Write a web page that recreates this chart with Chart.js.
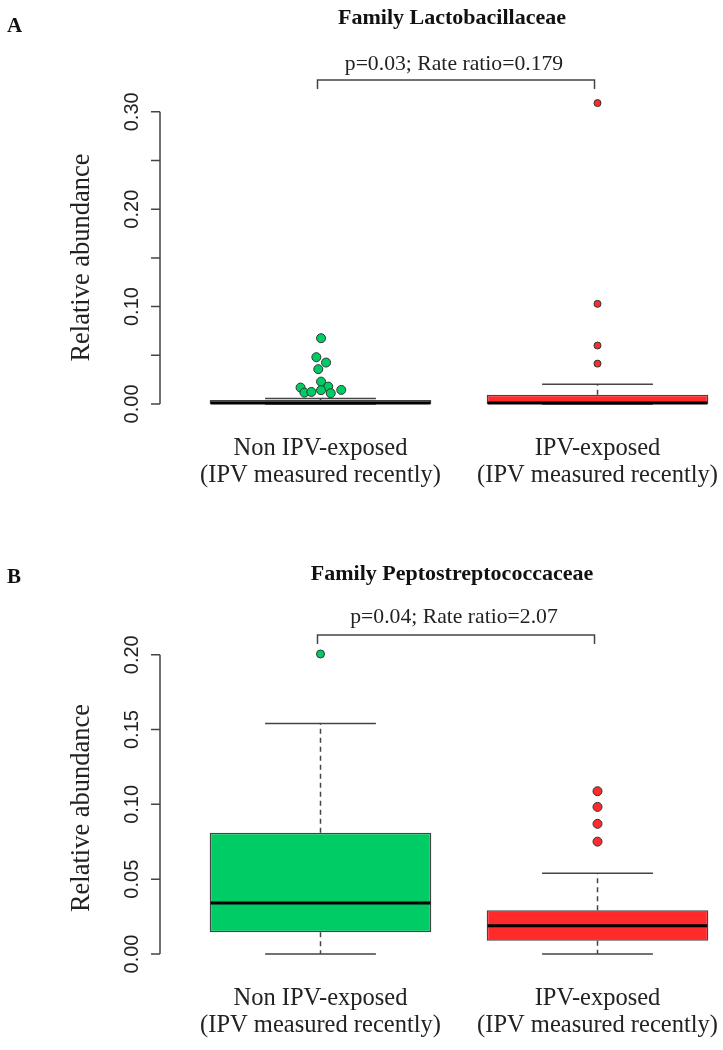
<!DOCTYPE html>
<html><head><meta charset="utf-8">
<script src="https://cdn.jsdelivr.net/npm/chart.js@4.4.1/dist/chart.umd.min.js"></script>
<style>html,body{margin:0;padding:0;background:#fff;}canvas{display:block;}</style>
</head><body>
<canvas id="cA" width="723" height="525"></canvas>
<canvas id="cB" width="723" height="525"></canvas>
<script>
// ---------- shared ----------
const categories = [1, 2];
const xLabels = [['Non IPV-exposed', '(IPV measured recently)'], ['IPV-exposed', '(IPV measured recently)']];
const yAxisTitle = 'Relative abundance';
const boxColors = ['#00CC66', '#FF2A2A'];

// ---------- Panel A ----------
const letterA = 'A';
const titleA = 'Family Lactobacillaceae';
const statA = 'p=0.03; Rate ratio=0.179';
const lowerWhiskerA = [0, 0];
const q1A = [0, 0];
const medianA = [0, 0];
const q3A = [0.004, 0.0093];
const upperWhiskerA = [0.0055, 0.0202];
const greenPointsXA = [1.002, 0.985, 1.020, 0.992, 1.002, 0.928, 1.028, 0.942, 0.967, 1.002, 1.037, 1.075];
const greenPointsYA = [0.0675, 0.0480, 0.0425, 0.0357, 0.0229, 0.0168, 0.0178, 0.0116, 0.0123, 0.0141, 0.0110, 0.0144];
const redOutliersA = [0.309, 0.1028, 0.0600, 0.0414];
const yTicksA = [0, 0.05, 0.10, 0.15, 0.20, 0.25, 0.30];
const yTickLabelsA = ['0.00', '', '0.10', '', '0.20', '', '0.30'];

// ---------- Panel B ----------
const letterB = 'B';
const titleB = 'Family Peptostreptococcaceae';
const statB = 'p=0.04; Rate ratio=2.07';
const lowerWhiskerB = [0, 0];
const q1B = [0.0145, 0.0089];
const medianB = [0.0341, 0.0189];
const q3B = [0.0811, 0.0292];
const upperWhiskerB = [0.154, 0.054];
const greenOutliersB = [0.2005];
const redOutliersB = [0.1088, 0.0983, 0.0870, 0.0751];
const yTicksB = [0, 0.05, 0.10, 0.15, 0.20];
const yTickLabelsB = ['0.00', '0.05', '0.10', '0.15', '0.20'];

const SERIF = '"Liberation Serif", "DejaVu Serif", serif';
const SANS = '"Liberation Sans", Arial, sans-serif';

function makePanel(canvasId, p) {
  const decor = {
    id: 'boxDecor',
    beforeDatasetsDraw(chart) {
      const {ctx, scales: {x, y}} = chart;
      const unit = x.getPixelForValue(1) - x.getPixelForValue(0);
      ctx.save();
      ctx.strokeStyle = '#444';
      ctx.lineWidth = 1.5;
      categories.forEach((c, i) => {
        const cx = x.getPixelForValue(c);
        ctx.setLineDash([5, 4]);
        ctx.beginPath();
        ctx.moveTo(cx, y.getPixelForValue(p.q3[i]));
        ctx.lineTo(cx, y.getPixelForValue(p.uw[i]));
        ctx.moveTo(cx, y.getPixelForValue(p.q1[i]));
        ctx.lineTo(cx, y.getPixelForValue(p.lw[i]));
        ctx.stroke();
        ctx.setLineDash([]);
        ctx.beginPath();
        [p.uw[i], p.lw[i]].forEach(v => {
          const py = y.getPixelForValue(v);
          ctx.moveTo(cx - 0.2 * unit, py);
          ctx.lineTo(cx + 0.2 * unit, py);
        });
        ctx.stroke();
      });
      ctx.restore();
    },
    afterDatasetsDraw(chart) {
      const {ctx, scales: {x, y}} = chart;
      const unit = x.getPixelForValue(1) - x.getPixelForValue(0);
      ctx.save();
      ctx.strokeStyle = '#000';
      ctx.lineWidth = 3;
      categories.forEach((c, i) => {
        const cx = x.getPixelForValue(c);
        const py = Math.min(y.getPixelForValue(p.med[i]), y.getPixelForValue(0) - 1);
        ctx.beginPath();
        ctx.moveTo(cx - 0.4 * unit + 1, py);
        ctx.lineTo(cx + 0.4 * unit - 1, py);
        ctx.stroke();
      });
      ctx.restore();
    },
    afterDraw(chart) {
      const {ctx, chartArea, scales: {x, y}} = chart;
      const left = chartArea.left;
      ctx.save();
      // y axis
      ctx.strokeStyle = '#444';
      ctx.lineWidth = 1.5;
      ctx.beginPath();
      ctx.moveTo(left, y.getPixelForValue(p.yTicks[0]));
      ctx.lineTo(left, y.getPixelForValue(p.yTicks[p.yTicks.length - 1]));
      p.yTicks.forEach(t => {
        const py = y.getPixelForValue(t);
        ctx.moveTo(left - 9, py);
        ctx.lineTo(left, py);
      });
      ctx.stroke();
      ctx.fillStyle = '#222';
      ctx.font = '20px ' + SANS;
      ctx.textAlign = 'center';
      ctx.textBaseline = 'middle';
      p.yTicks.forEach((t, i) => {
        if (!p.yTickLabels[i]) return;
        ctx.save();
        ctx.translate(132, y.getPixelForValue(t));
        ctx.rotate(-Math.PI / 2);
        ctx.fillText(p.yTickLabels[i], 0, 0);
        ctx.restore();
      });
      // y title
      ctx.save();
      ctx.font = '26.5px ' + SERIF;
      ctx.translate(82, (chartArea.top + chartArea.bottom) / 2 + 4);
      ctx.rotate(-Math.PI / 2);
      ctx.fillText(yAxisTitle, 0, 0);
      ctx.restore();
      // letter
      ctx.fillStyle = '#111';
      ctx.textAlign = 'left';
      ctx.font = 'bold 21px ' + SERIF;
      ctx.fillText(p.letter, 7, p.letterY);
      // title
      ctx.textAlign = 'center';
      ctx.font = 'bold 22px ' + SERIF;
      ctx.fillText(p.title, 452, p.titleY);
      // stat text
      ctx.font = '21.7px ' + SERIF;
      ctx.fillStyle = '#222';
      ctx.fillText(p.stat, 454, p.statY);
      // bracket
      const x1 = x.getPixelForValue(categories[0]) - 3;
      const x2 = x.getPixelForValue(categories[1]) - 3;
      ctx.strokeStyle = '#444';
      ctx.lineWidth = 1.5;
      ctx.beginPath();
      ctx.moveTo(x1, p.brY + 9);
      ctx.lineTo(x1, p.brY);
      ctx.lineTo(x2, p.brY);
      ctx.lineTo(x2, p.brY + 9);
      ctx.stroke();
      ctx.restore();
    }
  };

  const datasets = [
    {
      type: 'bar',
      data: categories.map((c, i) => ({x: c, y: [p.q1[i], p.q3[i]]})),
      backgroundColor: boxColors,
      borderColor: '#444',
      borderWidth: 1.5,
      borderSkipped: false,
      categoryPercentage: 1,
      barPercentage: 0.8
    },
    {
      type: 'scatter',
      data: p.greenPtsY.map((v, i) => ({x: p.greenPtsX[i], y: v})),
      backgroundColor: boxColors[0], borderColor: '#333', borderWidth: 1,
      pointRadius: p.greenR
    },
    {
      type: 'scatter',
      data: p.redOut.map(v => ({x: categories[1], y: v})),
      backgroundColor: boxColors[1], borderColor: '#333', borderWidth: 1,
      pointRadius: p.redR
    }
  ];

  return new Chart(document.getElementById(canvasId), {
    type: 'bar',
    data: {datasets},
    options: {
      responsive: false,
      animation: false,
      devicePixelRatio: 1,
      layout: {autoPadding: false, padding: {top: p.padTop, left: 0, right: 0, bottom: 0}},
      plugins: {legend: {display: false}, tooltip: {enabled: false}, title: {display: false}},
      scales: {
        x: {
          type: 'linear',
          offset: false,
          min: 0.4206, max: 2.453,
          grid: {display: false, drawTicks: false, offset: false},
          border: {display: false},
          afterBuildTicks: s => { s.ticks = categories.map(v => ({value: v})); },
          afterFit: s => { s.height = p.xAxisH; s.paddingLeft = 0; s.paddingRight = 0; },
          ticks: {
            autoSkip: false, maxRotation: 0, minRotation: 0,
            padding: 19,
            color: '#222',
            font: {family: SERIF, size: 24.5, lineHeight: 1.1},
            callback: (v, i) => xLabels[i]
          }
        },
        y: {
          type: 'linear',
          min: p.yMin, max: p.yMax,
          grid: {display: false},
          border: {display: false},
          ticks: {display: false},
          afterFit: s => { s.width = 160; s.paddingTop = 0; s.paddingBottom = 0; }
        }
      }
    },
    plugins: [decor]
  });
}

makePanel('cA', {
  letter: letterA, title: titleA, stat: statA,
  letterY: 27, titleY: 18, statY: 64, brY: 80,
  lw: lowerWhiskerA, q1: q1A, med: medianA, q3: q3A, uw: upperWhiskerA,
  greenPtsX: greenPointsXA, greenPtsY: greenPointsYA, greenR: 4.5,
  redOut: redOutliersA, redR: 3.5,
  yTicks: yTicksA, yTickLabels: yTickLabelsA,
  yMin: -0.0124, yMax: 0.3214, padTop: 91, xAxisH: 109
});

makePanel('cB', {
  letter: letterB, title: titleB, stat: statB,
  letterY: 53, titleY: 49, statY: 92.5, brY: 110,
  lw: lowerWhiskerB, q1: q1B, med: medianB, q3: q3B, uw: upperWhiskerB,
  greenPtsX: greenOutliersB.map(() => categories[0]), greenPtsY: greenOutliersB, greenR: 4,
  redOut: redOutliersB, redR: 4.5,
  yTicks: yTicksB, yTickLabels: yTickLabelsB,
  yMin: -0.008, yMax: 0.2085, padTop: 117, xAxisH: 84
});
</script>
</body></html>
